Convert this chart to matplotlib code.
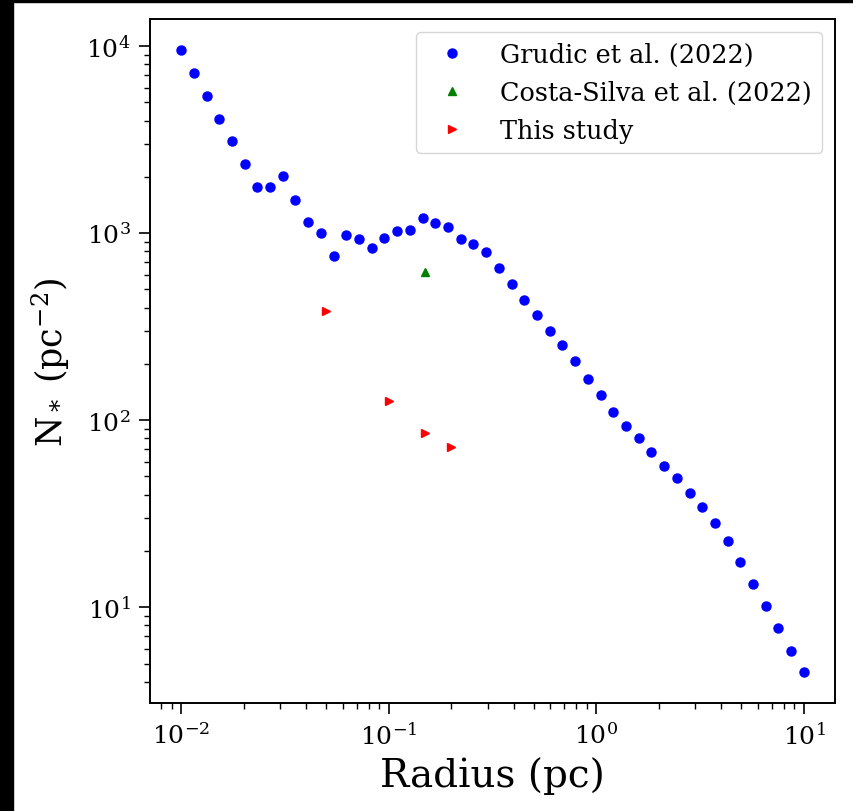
import numpy as np
import matplotlib
matplotlib.use('Agg')
import matplotlib.pyplot as plt
from matplotlib.patches import Rectangle

plt.rcParams['font.family'] = 'DejaVu Serif'
plt.rcParams['mathtext.fontset'] = 'dejavuserif'
plt.rcParams['axes.unicode_minus'] = False

# Grudic et al. (2022) surface density profile
grudic_r = [0.01, 0.01151, 0.01326, 0.01526, 0.01758, 0.02024, 0.0233, 0.02683,
            0.03089, 0.03556, 0.04095, 0.04715, 0.05429, 0.06251, 0.07197, 0.08286,
            0.09541, 0.1099, 0.1265, 0.1456, 0.1677, 0.1931, 0.2223, 0.256,
            0.2947, 0.3393, 0.3907, 0.4498, 0.5179, 0.5964, 0.6866, 0.7906,
            0.9103, 1.048, 1.207, 1.389, 1.6, 1.842, 2.121, 2.442,
            2.812, 3.237, 3.728, 4.292, 4.942, 5.69, 6.551, 7.543,
            8.685, 10.0]
grudic_n = [9520, 7200, 5420, 4100, 3090, 2340, 1760, 1770,
            2010, 1510, 1145, 1004, 757, 979, 925, 837,
            944, 1032, 1035, 1210, 1130, 1077, 925, 877,
            791, 652, 536, 440, 364, 301, 251, 207,
            166, 137, 110, 93.5, 80.4, 67.6, 57.0, 49.1,
            40.8, 34.4, 28.3, 22.6, 17.5, 13.3, 10.2, 7.72,
            5.83, 4.51]

# Costa-Silva et al. (2022)
costa_r = [0.15]
costa_n = [621]

# This study
study_r = [0.05, 0.1, 0.15, 0.2]
study_n = [383, 127, 85.5, 72]

fig = plt.figure(figsize=(8.54, 8.12), dpi=100)
ax = fig.add_axes([0.1756, 0.133, 0.8022, 0.8424])

ax.plot(grudic_r, grudic_n, 'o', color='blue', ms=6.5, label='Grudic et al. (2022)')
ax.plot(costa_r, costa_n, '^', color='green', ms=5.5, label='Costa-Silva et al. (2022)')
ax.plot(study_r, study_n, '>', color='red', ms=5.5, label='This study')

ax.set_xscale('log')
ax.set_yscale('log')
ax.set_xlabel('Radius (pc)', fontsize=28, labelpad=5)
ax.set_ylabel(r'N$_*$ (pc$^{-2}$)', fontsize=25, labelpad=10)
ax.tick_params(which='major', labelsize=18, length=8, width=1.2, pad=6)
ax.tick_params(which='minor', length=4.5, width=1.0)
for s in ax.spines.values():
    s.set_linewidth(1.4)

ax.legend(loc='upper right', fontsize=18.4, borderaxespad=0.5,
          handlelength=2.0, handletextpad=0.9, labelspacing=0.5)

# screenshot border
fig.patches.append(Rectangle((0, 0), 13 / 854, 1, transform=fig.transFigure,
                             color='black', zorder=10))
fig.patches.append(Rectangle((0, 1 - 3 / 812), 1, 3 / 812, transform=fig.transFigure,
                             color='black', zorder=10))

fig.savefig('out.png', dpi=100)
